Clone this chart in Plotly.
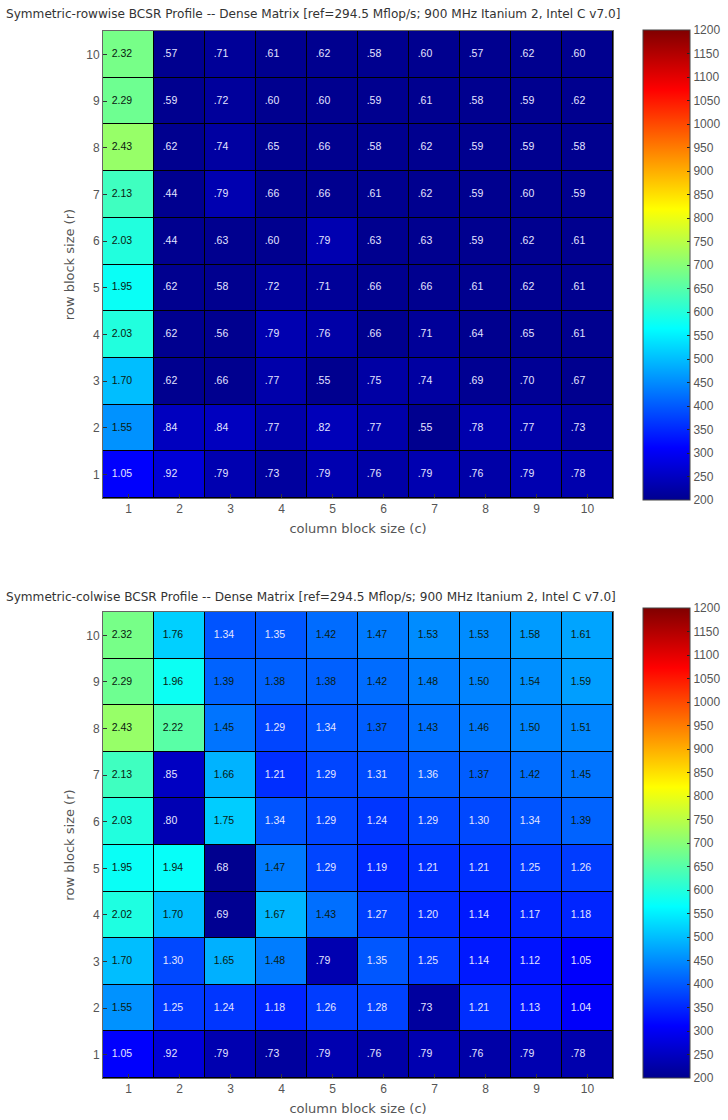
import plotly.graph_objects as go

# Reference dense-matrix performance (Mflop/s); cells are coloured by speedup * reference
REF_MFLOPS = 294.5

col_block_sizes = [1, 2, 3, 4, 5, 6, 7, 8, 9, 10]
row_block_sizes = [1, 2, 3, 4, 5, 6, 7, 8, 9, 10]

# Speedups over the reference; one list per row block size r = 1..10, columns c = 1..10
rowwise_speedup = [
    [1.05, .92, .79, .73, .79, .76, .79, .76, .79, .78],
    [1.55, .84, .84, .77, .82, .77, .55, .78, .77, .73],
    [1.70, .62, .66, .77, .55, .75, .74, .69, .70, .67],
    [2.03, .62, .56, .79, .76, .66, .71, .64, .65, .61],
    [1.95, .62, .58, .72, .71, .66, .66, .61, .62, .61],
    [2.03, .44, .63, .60, .79, .63, .63, .59, .62, .61],
    [2.13, .44, .79, .66, .66, .61, .62, .59, .60, .59],
    [2.43, .62, .74, .65, .66, .58, .62, .59, .59, .58],
    [2.29, .59, .72, .60, .60, .59, .61, .58, .59, .62],
    [2.32, .57, .71, .61, .62, .58, .60, .57, .62, .60],
]

colwise_speedup = [
    [1.05, .92, .79, .73, .79, .76, .79, .76, .79, .78],
    [1.55, 1.25, 1.24, 1.18, 1.26, 1.28, .73, 1.21, 1.13, 1.04],
    [1.70, 1.30, 1.65, 1.48, .79, 1.35, 1.25, 1.14, 1.12, 1.05],
    [2.02, 1.70, .69, 1.67, 1.43, 1.27, 1.20, 1.14, 1.17, 1.18],
    [1.95, 1.94, .68, 1.47, 1.29, 1.19, 1.21, 1.21, 1.25, 1.26],
    [2.03, .80, 1.75, 1.34, 1.29, 1.24, 1.29, 1.30, 1.34, 1.39],
    [2.13, .85, 1.66, 1.21, 1.29, 1.31, 1.36, 1.37, 1.42, 1.45],
    [2.43, 2.22, 1.45, 1.29, 1.34, 1.37, 1.43, 1.46, 1.50, 1.51],
    [2.29, 1.96, 1.39, 1.38, 1.38, 1.42, 1.48, 1.50, 1.54, 1.59],
    [2.32, 1.76, 1.34, 1.35, 1.42, 1.47, 1.53, 1.53, 1.58, 1.61],
]

colorbar_ticks = list(range(200, 1201, 50))

titles = [
    "Symmetric-rowwise BCSR Profile -- Dense Matrix [ref=294.5 Mflop/s; 900 MHz Itanium 2, Intel C v7.0]",
    "Symmetric-colwise BCSR Profile -- Dense Matrix [ref=294.5 Mflop/s; 900 MHz Itanium 2, Intel C v7.0]",
]

W, H = 728, 1120
FONT = "Liberation Sans, Arial, sans-serif"
WIDE_FONT = "DejaVu Sans, sans-serif"
GREY = "#555555"

# MATLAB-style jet
JET = [
    [0.0, "rgb(0,0,143)"],
    [0.111, "rgb(0,0,255)"],
    [0.365, "rgb(0,255,255)"],
    [0.619, "rgb(255,255,0)"],
    [0.873, "rgb(255,0,0)"],
    [1.0, "rgb(128,0,0)"],
]

# label anchor sits a little left of each cell centre, text runs to the right
LABEL_INSET = 0.33


def fmt(v):
    s = f"{v:.2f}"
    return s[1:] if v < 1 else s


def px_x(x):
    return x / W


def px_y(y):
    return 1 - y / H


panels = [
    dict(data=rowwise_speedup, top=31, bottom=498, title_y=14, cb_top=30, cb_bottom=500),
    dict(data=colwise_speedup, top=612, bottom=1078, title_y=597, cb_top=608, cb_bottom=1078),
]

plot_left, plot_right = 103, 613

fig = go.Figure()
for i, p in enumerate(panels):
    xa = "x" if i == 0 else "x2"
    ya = "y" if i == 0 else "y2"
    mflops = [[v * REF_MFLOPS for v in row] for row in p["data"]]
    fig.add_trace(go.Heatmap(
        x=col_block_sizes, y=row_block_sizes, z=mflops,
        zmin=200, zmax=1200, colorscale=JET,
        xgap=1, ygap=1, hoverinfo="skip",
        xaxis=xa, yaxis=ya,
        colorbar=dict(
            x=px_x(643), xanchor="left",
            y=px_y(p["cb_top"]), yanchor="top",
            lenmode="pixels", len=p["cb_bottom"] - p["cb_top"],
            thicknessmode="pixels", thickness=47,
            tickvals=colorbar_ticks, ticktext=[str(t) for t in colorbar_ticks],
            ticks="inside", ticklen=3, tickcolor="#222",
            tickfont=dict(family=FONT, size=12, color=GREY),
            outlinewidth=1, outlinecolor="#444",
            xpad=0, ypad=0,
        ),
    ))
    # cell labels: dark text on bright cells, light text on dark ones
    for dark in (True, False):
        xs, ys, ts = [], [], []
        for r, row in zip(row_block_sizes, p["data"]):
            for c, v in zip(col_block_sizes, row):
                if (v >= 1.37) == dark:
                    xs.append(c - LABEL_INSET)
                    ys.append(r)
                    ts.append(fmt(v))
        fig.add_trace(go.Scatter(
            x=xs, y=ys, text=ts, mode="text", textposition="middle right",
            hoverinfo="skip",
            textfont=dict(family=FONT, size=10.5, color="#0a2010" if dark else "#e4e4ff"),
            showlegend=False, xaxis=xa, yaxis=ya,
        ))
    fig.add_annotation(
        text=titles[i], xref="paper", yref="paper",
        x=px_x(4), y=px_y(p["title_y"]), xanchor="left", yanchor="middle",
        showarrow=False, font=dict(family=WIDE_FONT, size=12.1, color="#333"),
    )

axis_common = dict(
    tickmode="array", ticks="inside", ticklen=4, tickcolor="#333",
    tickfont=dict(family=FONT, size=12, color=GREY),
    showgrid=False, zeroline=False, showline=True, linecolor="#666", linewidth=1,
    mirror=True, range=[0.5, 10.5],
)
title_font = dict(family=WIDE_FONT, size=13, color=GREY)

fig.update_layout(
    width=W, height=H,
    margin=dict(l=0, r=0, t=0, b=0),
    paper_bgcolor="white", plot_bgcolor="black",
    showlegend=False,
    xaxis=dict(axis_common, domain=[px_x(plot_left), px_x(plot_right)], anchor="y",
               tickvals=col_block_sizes,
               title=dict(text="column block size (c)", standoff=8, font=title_font)),
    yaxis=dict(axis_common, domain=[px_y(panels[0]["bottom"]), px_y(panels[0]["top"])], anchor="x",
               tickvals=row_block_sizes,
               title=dict(text="row block size (r)", standoff=8, font=title_font)),
    xaxis2=dict(axis_common, domain=[px_x(plot_left), px_x(plot_right)], anchor="y2",
                tickvals=col_block_sizes,
                title=dict(text="column block size (c)", standoff=8, font=title_font)),
    yaxis2=dict(axis_common, domain=[px_y(panels[1]["bottom"]), px_y(panels[1]["top"])], anchor="x2",
                tickvals=row_block_sizes,
                title=dict(text="row block size (r)", standoff=8, font=title_font)),
)

fig.write_html("out.html")
